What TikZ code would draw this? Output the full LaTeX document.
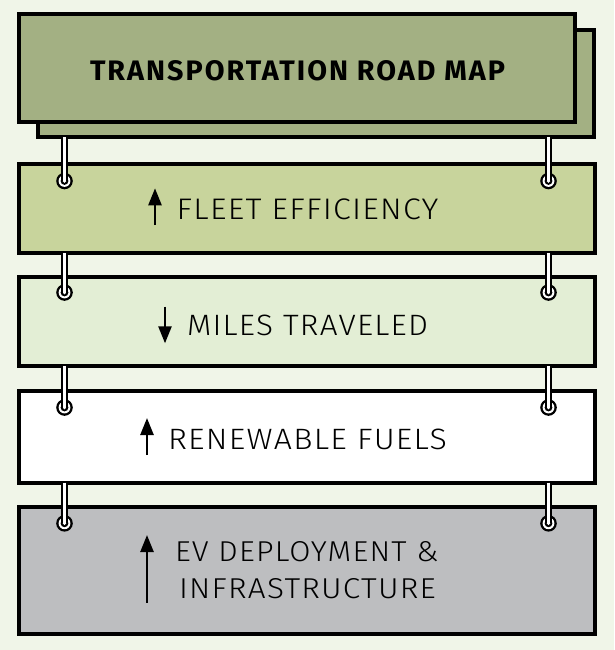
\documentclass[tikz,border=0pt]{standalone}
\usepackage{fontspec}
\setmainfont{Fira Sans}
\newfontfamily\lightfont{Fira Sans Light}[LetterSpace=4]
\newfontfamily\titlefont{Fira Sans}[LetterSpace=7]
\usetikzlibrary{arrows.meta}
\definecolor{bgc}{HTML}{F0F5E8}
\definecolor{titlec}{HTML}{A3B083}
\definecolor{onec}{HTML}{C8D49C}
\definecolor{twoc}{HTML}{E3EED5}
\definecolor{fourc}{HTML}{BDBEC0}
\tikzset{
  panel/.style={draw=black, line width=4pt, rectangle, inner sep=0pt, outer sep=0pt},
  txt/.style={anchor=base west, inner sep=0pt, outer sep=0pt},
  ringnode/.style={circle, inner sep=0pt, minimum size=1pt},
  rodout/.style={line width=6.5pt, black},
  rodin/.style={line width=2.6pt, white},
  trend/.style={line width=2.5pt, -{Triangle[length=17pt,width=13pt]}}
}
\newcommand{\eyelet}[1]{%
  \fill[black] (#1) circle (8.3pt);
  \fill[white] (#1) circle (5.9pt);
  \fill[black] (#1) circle (3.9pt);
  \fill[white] (#1) circle (1.8pt);
}
\begin{document}
\begin{tikzpicture}[x=1pt,y=-1pt]
\fill[bgc] (0,0) rectangle (614,650);
\useasboundingbox (0,0) rectangle (614,650);

% title boxes
\node[panel, fill=titlec, minimum width=556pt, minimum height=107.6pt] (back) at (316.3,83.5) {};
\node[panel, fill=titlec, minimum width=556pt, minimum height=108pt] (front) at (297.3,68.3) {};

% boxes
\node[panel, fill=onec, minimum width=576pt, minimum height=89.5pt] (b1) at (307.3,208.25) {};
\node[panel, fill=twoc, minimum width=576pt, minimum height=89pt] (b2) at (307.3,321.5) {};
\node[panel, fill=white, minimum width=576pt, minimum height=91.7pt] (b3) at (307.3,436.85) {};
\node[panel, fill=fourc, minimum width=576pt, minimum height=127pt] (b4) at (307.3,570.5) {};

% eyelets
\node[ringnode] (r1l) at (64.5,181) {};
\node[ringnode] (r1r) at (548.5,181) {};
\node[ringnode] (r2l) at (64.5,292.5) {};
\node[ringnode] (r2r) at (548.5,292.5) {};
\node[ringnode] (r3l) at (64.5,407.5) {};
\node[ringnode] (r3r) at (548.5,407.5) {};
\node[ringnode] (r4l) at (64.5,523.3) {};
\node[ringnode] (r4r) at (548.5,523.3) {};

\foreach \r in {r1l,r1r,r2l,r2r,r3l,r3r,r4l,r4r} {\eyelet{\r.center}}

% rods
\foreach \r/\b in {r1l/back,r1r/back,r2l/b1,r2r/b1,r3l/b2,r3r/b2,r4l/b3,r4r/b3} {
  \draw[rodout] (\r |- \b.south) -- (\r.center);
  \draw[rodin] (\r |- \b.south) -- (\r.center);
}

% texts
\node[txt] (title) at (90,81) {\resizebox{415pt}{20pt}{\titlefont\bfseries TRANSPORTATION ROAD MAP}};
\node[txt] (t1) at (176.7,219) {\resizebox{261.6pt}{20.7pt}{\lightfont FLEET EFFICIENCY}};
\node[txt] (t2) at (187,335.5) {\resizebox{241pt}{20.5pt}{\lightfont MILES TRAVELED}};
\node[txt] (t3) at (168,449) {\resizebox{279pt}{20.5pt}{\lightfont RENEWABLE FUELS}};
\node[txt] (t4a) at (175,561.7) {\resizebox{263.5pt}{20pt}{\lightfont EV DEPLOYMENT \&}};
\node[txt] (t4b) at (179,598.3) {\resizebox{256.8pt}{20pt}{\lightfont INFRASTRUCTURE}};

% arrows
\coordinate (a1s) at (155,225);   \coordinate (a1e) at (155,188.3);
\coordinate (a2s) at (165,306.7); \coordinate (a2e) at (165,343.3);
\coordinate (a3s) at (147,455);   \coordinate (a3e) at (147,418);
\coordinate (a4s) at (147,602.7); \coordinate (a4e) at (147,535);
\draw[trend] (a1s) -- (a1e);
\draw[trend] (a2s) -- (a2e);
\draw[trend] (a3s) -- (a3e);
\draw[trend] (a4s) -- (a4e);
\end{tikzpicture}
\end{document}
